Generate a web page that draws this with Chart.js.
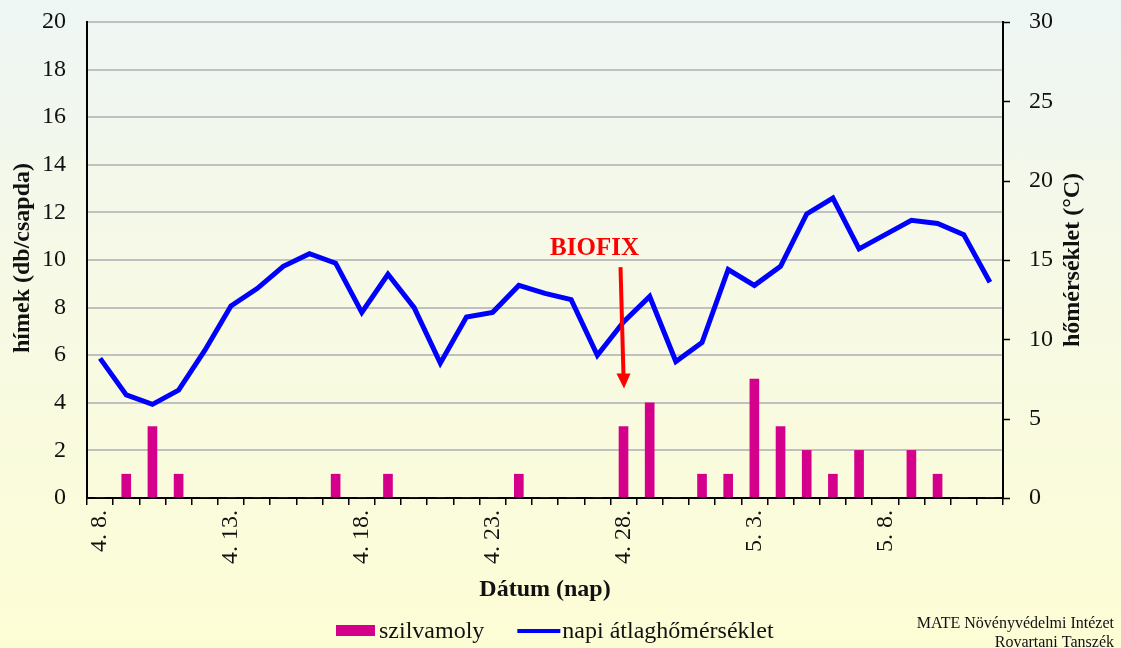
<!DOCTYPE html>
<html>
<head>
<meta charset="utf-8">
<script src="https://cdn.jsdelivr.net/npm/chart.js@4.4.0/dist/chart.umd.min.js"></script>
<style>
  body { margin: 0; }
  #wrap { width: 1121px; height: 648px; background: linear-gradient(#eef6f5, #f6f9e6 40%, #fdfdd5); }
</style>
</head>
<body>
<div id="wrap"><canvas id="chart" width="1121" height="648"></canvas></div>
<script>
var datumok = ["4. 8.", "4. 9.", "4. 10.", "4. 11.", "4. 12.", "4. 13.", "4. 14.", "4. 15.", "4. 16.", "4. 17.",
  "4. 18.", "4. 19.", "4. 20.", "4. 21.", "4. 22.", "4. 23.", "4. 24.", "4. 25.", "4. 26.", "4. 27.",
  "4. 28.", "4. 29.", "4. 30.", "5. 1.", "5. 2.", "5. 3.", "5. 4.", "5. 5.", "5. 6.", "5. 7.",
  "5. 8.", "5. 9.", "5. 10.", "5. 11.", "5. 12."];
// himek / csapda
var szilvamoly = [0, 1, 3, 1, 0, 0, 0, 0, 0, 1,
  0, 1, 0, 0, 0, 0, 1, 0, 0, 0,
  3, 4, 0, 1, 1, 5, 3, 2, 1, 2,
  0, 2, 1, 0, 0];
// napi atlaghomerseklet (C)
var homerseklet = [8.8, 6.5, 5.9, 6.8, 9.3, 12.1, 13.2, 14.6, 15.4, 14.8,
  11.7, 14.1, 12.0, 8.5, 11.4, 11.7, 13.4, 12.9, 12.5, 9.0,
  11.1, 12.7, 8.6, 9.8, 14.4, 13.4, 14.6, 17.9, 18.9, 15.7,
  16.6, 17.5, 17.3, 16.6, 13.6];
var biofixIndex = 20;

var serif = "'Liberation Serif', 'Times New Roman', serif";

var extras = {
  id: "extras",
  afterDraw: function (chart) {
    var ctx = chart.ctx;
    var area = chart.chartArea;
    var x = chart.scales.x, y = chart.scales.y, y1 = chart.scales.y1;
    ctx.save();

    // short tick marks on the right axis
    ctx.strokeStyle = "#000";
    ctx.lineWidth = 1.5;
    y1.ticks.forEach(function (t) {
      var py = Math.round(y1.getPixelForValue(t.value)) + 0.5;
      ctx.beginPath();
      ctx.moveTo(area.right, py);
      ctx.lineTo(area.right + 7, py);
      ctx.stroke();
    });

    ctx.fillStyle = "#111";
    ctx.font = "bold 24px " + serif;
    ctx.textAlign = "center";
    ctx.textBaseline = "middle";
    // x title
    ctx.fillText("Dátum (nap)", (area.left + area.right) / 2, 590);
    // left title
    ctx.save();
    ctx.translate(23, (area.top + area.bottom) / 2 - 2);
    ctx.rotate(-Math.PI / 2);
    ctx.fillText("hímek (db/csapda)", 0, 0);
    ctx.restore();
    // right title
    ctx.save();
    ctx.translate(1073, (area.top + area.bottom) / 2);
    ctx.rotate(-Math.PI / 2);
    ctx.fillText("hőmérséklet (°C)", 0, 0);
    ctx.restore();

    // BIOFIX
    var bx = x.getPixelForValue(biofixIndex);
    ctx.fillStyle = "#ff0000";
    ctx.font = "bold 25px " + serif;
    ctx.fillText("BIOFIX", bx - 29, y.getPixelForValue(10.5));
    var top = y.getPixelForValue(9.7), tip = y.getPixelForValue(4.6);
    ctx.strokeStyle = "#ff0000";
    ctx.lineWidth = 4;
    ctx.beginPath();
    ctx.moveTo(bx - 3, top);
    ctx.lineTo(bx, tip - 12);
    ctx.stroke();
    ctx.beginPath();
    ctx.moveTo(bx - 7, tip - 15);
    ctx.lineTo(bx + 7, tip - 15);
    ctx.lineTo(bx + 0.5, tip);
    ctx.closePath();
    ctx.fill();

    // legend
    var ds = chart.data.datasets;
    var bar = ds[1], line = ds[0];
    ctx.font = "24px " + serif;
    ctx.textAlign = "left";
    ctx.textBaseline = "alphabetic";
    var lx = 336, ly = 631;
    ctx.fillStyle = bar.backgroundColor;
    ctx.fillRect(lx, ly - 6, 39, 11);
    ctx.fillStyle = "#111";
    ctx.fillText(bar.label, lx + 43, ly + 7);
    lx = lx + 43 + ctx.measureText(bar.label).width + 33;
    ctx.strokeStyle = line.borderColor;
    ctx.lineWidth = 4;
    ctx.beginPath();
    ctx.moveTo(lx, ly);
    ctx.lineTo(lx + 43, ly);
    ctx.stroke();
    ctx.fillText(line.label, lx + 45, ly + 7);

    // credit
    ctx.font = "16px " + serif;
    ctx.textAlign = "right";
    ctx.fillText("MATE Növényvédelmi Intézet", 1114, 628);
    ctx.fillText("Rovartani Tanszék", 1114, 647);
    ctx.restore();
  }
};

var chart = new Chart(document.getElementById("chart").getContext("2d"), {
  type: "bar",
  data: {
    labels: datumok,
    datasets: [
      {
        type: "line",
        label: "napi átlaghőmérséklet",
        data: homerseklet,
        yAxisID: "y1",
        borderColor: "#0000ff",
        borderWidth: 5,
        pointRadius: 0,
        tension: 0,
        fill: false
      },
      {
        type: "bar",
        label: "szilvamoly",
        data: szilvamoly,
        yAxisID: "y",
        backgroundColor: "#d4008c",
        barThickness: 9
      }
    ]
  },
  options: {
    responsive: false,
    animation: false,
    devicePixelRatio: 1,
    layout: { padding: { top: 22, left: 0, right: 0, bottom: 0 } },
    plugins: {
      legend: { display: false },
      tooltip: { enabled: false }
    },
    scales: {
      x: {
        offset: true,
        grid: { offset: true, drawOnChartArea: false, color: "#000", lineWidth: 1.5, tickLength: 7 },
        border: { color: "#000", width: 2 },
        ticks: {
          autoSkip: false,
          minRotation: 90,
          maxRotation: 90,
          padding: 5,
          color: "#111",
          font: { family: serif, size: 24 },
          callback: function (v, i) { return i % 5 === 0 ? datumok[i] : ""; }
        },
        afterFit: function (s) { s.height = 150; }
      },
      y: {
        position: "left",
        min: 0,
        max: 20,
        ticks: { stepSize: 2, padding: 1, color: "#111", font: { family: serif, size: 24 } },
        grid: { color: "#c0c0c0", lineWidth: 2, drawTicks: true, tickLength: 20, tickColor: "rgba(0,0,0,0)" },
        border: { color: "#000", width: 2 },
        afterFit: function (s) { s.width = 87; }
      },
      y1: {
        position: "right",
        min: 0,
        max: 30,
        ticks: { stepSize: 5, padding: 1, color: "#111", font: { family: serif, size: 24 } },
        grid: { drawOnChartArea: false, tickLength: 25, tickColor: "rgba(0,0,0,0)" },
        border: { color: "#000", width: 2 },
        afterFit: function (s) { s.width = 118; }
      }
    }
  },
  plugins: [extras]
});
</script>
</body>
</html>
